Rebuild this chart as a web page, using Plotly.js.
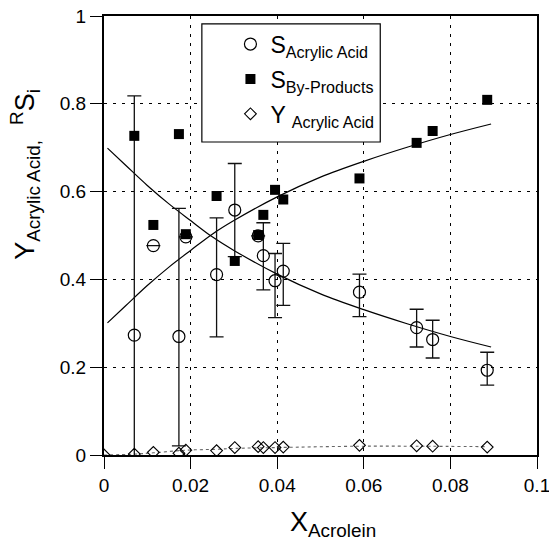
<!DOCTYPE html>
<html>
<head>
<meta charset="utf-8">
<script src="https://cdn.plot.ly/plotly-3.0.1.min.js"></script>
<style>html,body{margin:0;padding:0;background:#fff;}#chart{width:549px;height:540px;}</style>
</head>
<body>
<div id="chart"></div>
<script>
// Conversion of acrolein (x) for each measurement
var xConv = [0.0070, 0.0114, 0.0173, 0.0189, 0.0260, 0.0302, 0.0356, 0.0368, 0.0395, 0.0414, 0.0590, 0.0722, 0.0759, 0.0885];
// Selectivity to acrylic acid (open circles) and its error bars
var selAA = [0.273, 0.477, 0.270, 0.497, 0.411, 0.558, 0.499, 0.454, 0.397, 0.419, 0.371, 0.290, 0.263, 0.193];
var selAAerrPlus = [0.545, null, 0.292, null, 0.129, 0.106, null, 0.075, 0.062, 0.063, 0.041, 0.042, 0.044, 0.041];
var selAAerrMinus = [0.545, null, 0.249, null, 0.142, 0.106, null, 0.078, 0.084, 0.078, 0.056, 0.044, 0.042, 0.034];
// Selectivity to by-products (filled squares)
var selBP = [0.727, 0.524, 0.731, 0.503, 0.590, 0.442, 0.501, 0.547, 0.604, 0.582, 0.630, 0.711, 0.738, 0.809];
// Yield of acrylic acid (open diamonds)
var xYield = [0, 0.0070, 0.0114, 0.0173, 0.0189, 0.0260, 0.0302, 0.0356, 0.0368, 0.0395, 0.0414, 0.0590, 0.0722, 0.0759, 0.0885];
var yieldAA = [0, 0.002, 0.006, 0.004, 0.011, 0.010, 0.017, 0.019, 0.017, 0.017, 0.018, 0.022, 0.021, 0.020, 0.018];
// Fitted curves
var fitX = [0.0008, 0.005, 0.010, 0.015, 0.020, 0.025, 0.030, 0.040, 0.050, 0.060, 0.070, 0.080, 0.0894];
var fitAA = [0.699, 0.660, 0.614, 0.572, 0.534, 0.497, 0.466, 0.412, 0.367, 0.331, 0.299, 0.270, 0.246];
var fitBP = [0.301, 0.340, 0.386, 0.428, 0.466, 0.503, 0.534, 0.588, 0.633, 0.669, 0.701, 0.730, 0.754];
var fitYX = [0, 0.007, 0.0114, 0.019, 0.026, 0.030, 0.040, 0.059, 0.072, 0.0885];
var fitY = [0, 0.002, 0.005, 0.011, 0.013, 0.015, 0.017, 0.020, 0.020, 0.019];
// Axis ticks
var xTicks = [0, 0.02, 0.04, 0.06, 0.08, 0.1];
var xTickText = ["0", "0.02", "0.04", "0.06", "0.08", "0.1"];
var yTicks = [0, 0.2, 0.4, 0.6, 0.8, 1];
var yTickText = ["0", "0.2", "0.4", "0.6", "0.8", "1"];

var FONT = "Liberation Sans, Arial, Helvetica, sans-serif";

var traces = [
  {x: fitX, y: fitAA, type: "scatter", mode: "lines", line: {color: "#000", width: 1.2, shape: "spline"}, showlegend: false, hoverinfo: "skip"},
  {x: fitX, y: fitBP, type: "scatter", mode: "lines", line: {color: "#000", width: 1.2, shape: "spline"}, showlegend: false, hoverinfo: "skip"},
  {x: fitYX, y: fitY, type: "scatter", mode: "lines", line: {color: "#666", width: 1.1, dash: "dot", shape: "spline"}, showlegend: false, hoverinfo: "skip"},
  {x: xConv, y: selAA, type: "scatter", mode: "markers", name: "S<sub>Acrylic Acid</sub>", legendgroup: "a",
   marker: {symbol: "circle-open", size: 12, color: "#000", line: {width: 1.2, color: "#000"}},
   error_y: {type: "data", symmetric: false, array: selAAerrPlus, arrayminus: selAAerrMinus, color: "#111", thickness: 1.3, width: 7}},
  {x: xConv, y: selBP, type: "scatter", mode: "markers", name: "S<sub>By-Products</sub>", legendgroup: "b",
   marker: {symbol: "square", size: 10, color: "#000"}},
  {x: xYield, y: yieldAA, type: "scatter", mode: "markers", name: "Y <sub>Acrylic Acid</sub>", legendgroup: "c",
   marker: {symbol: "diamond-open", size: 9, color: "#000", line: {width: 1.1, color: "#000"}}}
];

var gridDash = "3px,6px";
var layout = {
  width: 549, height: 540,
  margin: {l: 104, r: 12, t: 16, b: 85},
  paper_bgcolor: "#fff", plot_bgcolor: "#fff",
  font: {family: FONT, color: "#000"},
  showlegend: true,
  legend: {x: 0.292, xanchor: "left", y: 0.985, yanchor: "top", bgcolor: "rgba(0,0,0,0)", borderwidth: 0,
           font: {family: FONT, size: 23, color: "#000"}, traceorder: "grouped", tracegroupgap: 2},
  xaxis: {range: [0, 0.1], tickvals: xTicks, ticktext: xTickText, ticks: "outside", ticklen: 12, tickwidth: 1, tickcolor: "#000",
          showline: true, linewidth: 2, linecolor: "#000", mirror: true, zeroline: false,
          showgrid: true, gridcolor: "#000", gridwidth: 1, griddash: gridDash, ticklabeloverflow: "allow",
          tickfont: {family: FONT, size: 19, color: "#000"}, fixedrange: true},
  yaxis: {range: [0, 1], tickvals: yTicks, ticktext: yTickText, ticks: "outside", ticklen: 12, tickwidth: 1, tickcolor: "#000",
          showline: true, linewidth: 2, linecolor: "#000", mirror: true, zeroline: false,
          showgrid: true, gridcolor: "#000", gridwidth: 1, griddash: gridDash, ticklabeloverflow: "allow",
          tickfont: {family: FONT, size: 19, color: "#000"}, fixedrange: true},
  shapes: [
    {type: "rect", xref: "paper", yref: "paper", x0: 0.226, x1: 0.638, y0: 0.713, y1: 0.982,
     fillcolor: "#fff", line: {color: "#000", width: 1.2}, layer: "above"}
  ],
  annotations: [
    {text: "X<sub>Acrolein</sub>", xref: "paper", yref: "paper", x: 0.53, y: -0.157, xanchor: "center", yanchor: "middle",
     showarrow: false, font: {family: FONT, size: 27, color: "#000"}},
    {text: "Y<sub>Acrylic Acid,</sub>&nbsp;&nbsp;<sup>R</sup>S<sub>i</sub>", xref: "paper", yref: "paper", x: -0.183, y: 0.64,
     xanchor: "center", yanchor: "middle", textangle: -90, showarrow: false, font: {family: FONT, size: 27, color: "#000"}}
  ]
};

Plotly.newPlot("chart", traces, layout, {displayModeBar: false, staticPlot: true});
</script>
</body>
</html>
